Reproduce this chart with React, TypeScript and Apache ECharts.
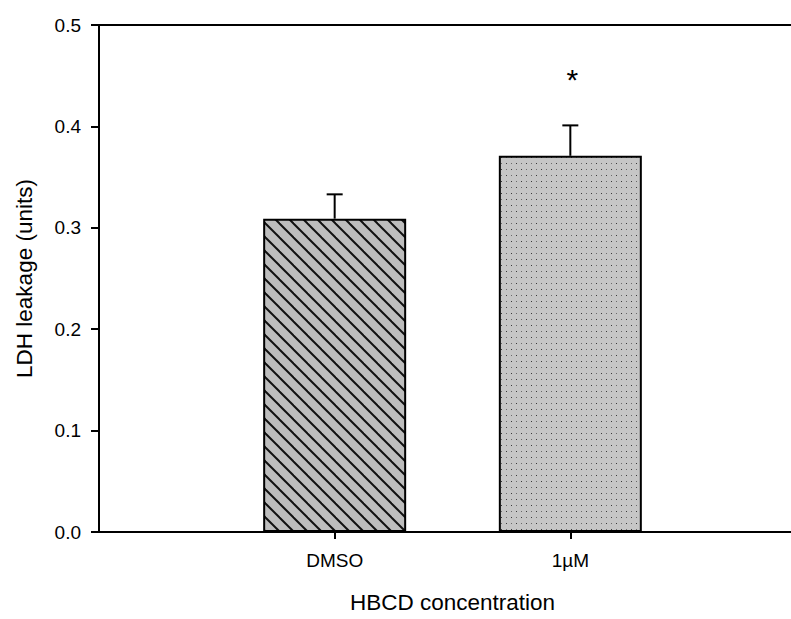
import React, { useEffect, useRef } from "react";
import * as echarts from "echarts";

// Treatment groups and their LDH leakage (mean and upper error)
const groups = ["DMSO", "1µM"];
const means = [0.309, 0.371];
const errors = [0.024, 0.030];
const marks = ["", "*"];

// y-axis ticks
const yMin = 0;
const yMax = 0.5;
const yStep = 0.1;

const FONT = "'Liberation Sans', Arial, sans-serif";

function hatchPattern(): HTMLCanvasElement {
  const s = 14;
  const c = document.createElement("canvas");
  c.width = s;
  c.height = s;
  const g = c.getContext("2d")!;
  g.fillStyle = "#bdbdbd";
  g.fillRect(0, 0, s, s);
  g.strokeStyle = "#111";
  g.lineWidth = 2;
  for (let k = -1; k <= 1; k++) {
    g.beginPath();
    g.moveTo(-2, k * s - 2);
    g.lineTo(s + 2, k * s + s + 2);
    g.stroke();
  }
  return c;
}

function dotPattern(): HTMLCanvasElement {
  const w = 10;
  const h = 12;
  const c = document.createElement("canvas");
  c.width = w;
  c.height = h;
  const g = c.getContext("2d")!;
  g.fillStyle = "#c6c6c6";
  g.fillRect(0, 0, w, h);
  g.fillStyle = "#3a3a3a";
  g.fillRect(1, 1, 1, 1);
  g.fillRect(6, 7, 1, 1);
  g.fillStyle = "#6a6a6a";
  g.fillRect(6, 1, 1, 1);
  g.fillRect(1, 7, 1, 1);
  return c;
}

export default function App() {
  const ref = useRef<HTMLDivElement>(null);

  useEffect(() => {
    if (!ref.current) return;
    const chart = echarts.init(ref.current, null, { renderer: "svg" });

    const categories = ["", ...groups, ""];
    const patterns = [hatchPattern(), dotPattern()];

    const barData: any[] = categories.map((_, i) => {
      const gi = i - 1;
      if (gi < 0 || gi >= groups.length) return "-";
      return {
        value: means[gi],
        itemStyle: {
          color: { image: patterns[gi], repeat: "repeat" },
        },
      };
    });

    const errData = groups.map((_, gi) => [gi + 1, means[gi], errors[gi]]);

    chart.setOption({
      animation: false,
      grid: {
        left: 99,
        top: 25,
        right: 24,
        bottom: 82,
        show: true,
        borderColor: "#000",
        borderWidth: 2,
        backgroundColor: "transparent",
      },
      xAxis: {
        type: "category",
        data: categories,
        boundaryGap: false,
        name: "HBCD concentration",
        nameLocation: "middle",
        nameGap: 59,
        nameTextStyle: { fontFamily: FONT, fontSize: 22.5, color: "#000", verticalAlign: "top" },
        axisLine: { lineStyle: { color: "#000", width: 2 } },
        axisTick: {
          show: true,
          length: 7,
          interval: (i: number) => i >= 1 && i <= groups.length,
          lineStyle: { color: "#000", width: 2 },
        },
        axisLabel: {
          interval: 0,
          margin: 19,
          fontFamily: FONT,
          fontSize: 19,
          color: "#000",
        },
        splitLine: { show: false },
      },
      yAxis: {
        type: "value",
        min: yMin,
        max: yMax,
        interval: yStep,
        name: "LDH leakage (units)",
        nameLocation: "middle",
        nameGap: 63,
        nameTextStyle: { fontFamily: FONT, fontSize: 22.5, color: "#000" },
        axisLine: { show: true, lineStyle: { color: "#000", width: 2 } },
        axisTick: { show: true, length: 8, lineStyle: { color: "#000", width: 2 } },
        axisLabel: {
          margin: 18,
          fontFamily: FONT,
          fontSize: 19,
          color: "#000",
          formatter: (v: number) => v.toFixed(1),
        },
        splitLine: { show: false },
      },
      series: [
        {
          type: "bar",
          data: barData,
          barWidth: 143,
          itemStyle: { borderColor: "#000", borderWidth: 2 },
          z: 2,
        },
        {
          type: "custom",
          data: errData,
          z: 3,
          renderItem: (params: any, api: any) => {
            const x = api.value(0);
            const m = api.value(1);
            const e = api.value(2);
            const base = api.coord([x, m]);
            const top = api.coord([x, m + e]);
            const half = 8;
            const children: any[] = [
              {
                type: "line",
                shape: { x1: base[0], y1: base[1], x2: top[0], y2: top[1] },
                style: { stroke: "#000", lineWidth: 2 },
              },
              {
                type: "line",
                shape: { x1: top[0] - half, y1: top[1], x2: top[0] + half, y2: top[1] },
                style: { stroke: "#000", lineWidth: 2 },
              },
            ];
            const mark = marks[params.dataIndex];
            if (mark) {
              children.push({
                type: "text",
                x: top[0] + 2,
                y: top[1] - 46,
                style: {
                  text: mark,
                  fontFamily: FONT,
                  fontSize: 30,
                  fill: "#000",
                  align: "center",
                  verticalAlign: "middle",
                },
              });
            }
            return { type: "group", children };
          },
        },
      ],
    });

    return () => chart.dispose();
  }, []);

  return (
    <div
      style={{
        position: "fixed",
        left: 0,
        top: 0,
        width: 791,
        height: 619,
        overflow: "hidden",
        background: "#fff",
      }}
    >
      <div ref={ref} style={{ width: 830, height: 619 }} />
    </div>
  );
}
